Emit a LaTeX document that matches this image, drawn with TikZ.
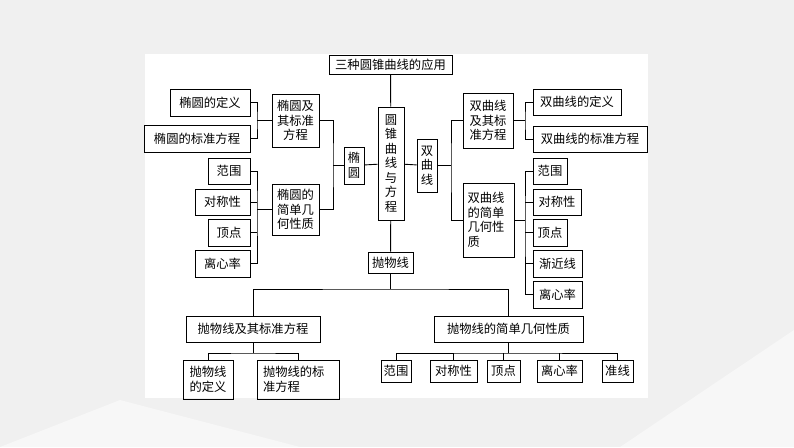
\documentclass[tikz,border=0pt]{standalone}
\usepackage{fontspec}
\setmainfont{Noto Sans CJK SC}
\begin{document}
\begin{tikzpicture}[x=1pt,y=-1pt,
  box/.style={draw,line width=0.9pt,inner sep=0pt,align=center,font=\fontsize{12.3}{14.5}\selectfont},
  ln/.style={line width=0.9pt}]
\useasboundingbox (0,0) rectangle (794,447);
\fill[black!6] (0,0) rectangle (794,447);
\fill[black!3] (0,447) -- (120,400) -- (300,447) -- cycle;
\fill[black!3] (620,447) -- (794,330) -- (794,447) -- cycle;
\fill[white] (145,54) rectangle (648,398);
% center
\node[box,minimum width=123,minimum height=19] (title) at (390.5,64.5) {三种圆锥曲线的应用};
\node[box,minimum width=26,minimum height=113,text width=14] (main) at (391,163.5) {圆\\锥\\曲\\线\\与\\方\\程};
\node[box,minimum width=20,minimum height=37,text width=14] (ty) at (354,165.5) {椭\\圆};
\node[box,minimum width=20,minimum height=53,text width=14] (sy) at (427,165.5) {双\\曲\\线};
\node[box,minimum width=45,minimum height=21] (pw) at (390.5,262.5) {抛物线};
% left
\node[box,minimum width=47,minimum height=53,text width=42] (tyA) at (295.5,120.5) {椭圆及\\其标准\\方程};
\node[box,minimum width=47,minimum height=51,text width=42] (tyB) at (295.5,209.5) {椭圆的\\简单几\\何性质};
\node[box,minimum width=80,minimum height=27] (d1) at (210,102.5) {椭圆的定义};
\node[box,minimum width=106,minimum height=27] (d2) at (197,138.5) {椭圆的标准方程};
\node[box,minimum width=42,minimum height=26] (r1) at (229,171) {范围};
\node[box,minimum width=55,minimum height=26] (r2) at (222.5,202) {对称性};
\node[box,minimum width=42,minimum height=27] (r3) at (229,232.5) {顶点};
\node[box,minimum width=55,minimum height=27] (r4) at (222.5,263.5) {离心率};
% right
\node[box,minimum width=50,minimum height=55,text width=42] (syA) at (488,120.5) {双曲线\\及其标\\准方程};
\node[box,minimum width=51,minimum height=74,text width=42,align=left] (syB) at (488.5,220) {双曲线\\的简单\\几何性\\质};
\node[box,minimum width=88,minimum height=26] (sd1) at (577,102) {双曲线的定义};
\node[box,minimum width=114,minimum height=26] (sd2) at (590,139) {双曲线的标准方程};
\node[box,minimum width=34,minimum height=26] (s1) at (550,171) {范围};
\node[box,minimum width=48,minimum height=26] (s2) at (557,202) {对称性};
\node[box,minimum width=34,minimum height=27] (s3) at (550,232.5) {顶点};
\node[box,minimum width=49,minimum height=27] (s4) at (557.5,263.5) {渐近线};
\node[box,minimum width=49,minimum height=27] (s5) at (557.5,294.5) {离心率};
% bottom
\node[box,minimum width=134,minimum height=26] (pA) at (253,329) {抛物线及其标准方程};
\node[box,minimum width=149,minimum height=26] (pB) at (508.5,329) {抛物线的简单几何性质};
\node[box,minimum width=50,minimum height=39,text width=44] (pa1) at (208,379.5) {抛物线\\的定义};
\node[box,minimum width=82,minimum height=39,text width=70,align=left] (pa2) at (298,379.5) {抛物线的标\\准方程};
\node[box,minimum width=30,minimum height=22] (q1) at (396,371) {范围};
\node[box,minimum width=47,minimum height=22] (q2) at (453.5,371) {对称性};
\node[box,minimum width=33,minimum height=22] (q3) at (503.5,371) {顶点};
\node[box,minimum width=45,minimum height=22] (q4) at (559.5,371) {离心率};
\node[box,minimum width=31,minimum height=22] (q5) at (617.5,371) {准线};
% coordinates
\coordinate (lj) at (333,165.5);
\coordinate (lk) at (257,120.5);
\coordinate (lk2) at (257,209.5);
\coordinate (rj) at (451,165.5);
\coordinate (rk) at (525,120.5);
\coordinate (rk2) at (525,220);
\coordinate (pb) at (390.5,289);
\coordinate (pa) at (253,353);
\coordinate (pbb) at (508.5,353);
% connectors
\draw[ln] (title) -- (main);
\draw[ln] (ty) -- (main);
\draw[ln] (main) -- (sy);
\draw[ln] (main) -- (pw);
\draw[ln] (ty.west) -- (lj);
\draw[ln] (tyA.east) -| (lj) |- (tyB.east);
\draw[ln] (d1.east) -| (lk) |- (d2.east);
\draw[ln] (lk) -- (tyA.west);
\draw[ln] (r1.east) -| (lk2) |- (r4.east);
\draw[ln] (r2.east) -- (r2.east -| lk2);
\draw[ln] (r3.east) -- (r3.east -| lk2);
\draw[ln] (lk2) -- (tyB.west);
\draw[ln] (sy.east) -- (rj);
\draw[ln] (syA.west) -| (rj) |- (syB.west);
\draw[ln] (syA.east) -- (rk);
\draw[ln] (sd1.west) -| (rk) |- (sd2.west);
\draw[ln] (syB.east) -- (rk2);
\draw[ln] (s1.west) -| (rk2) |- (s5.west);
\draw[ln] (s2.west) -- (s2.west -| rk2);
\draw[ln] (s3.west) -- (s3.west -| rk2);
\draw[ln] (s4.west) -- (s4.west -| rk2);
\draw[ln] (pw.south) -- (pb);
\draw[ln] (pA.north) |- (pb) -| (pB.north);
\draw[ln] (pA.south) -- (pa);
\draw[ln] (pa1.north) |- (pa) -| (pa2.north);
\draw[ln] (pB.south) -- (pbb);
\draw[ln] (q1.north) |- (pbb) -| (q5.north);
\draw[ln] (q2.north) -- (q2.north |- pbb);
\draw[ln] (q3.north) -- (q3.north |- pbb);
\draw[ln] (q4.north) -- (q4.north |- pbb);
\end{tikzpicture}
\end{document}
